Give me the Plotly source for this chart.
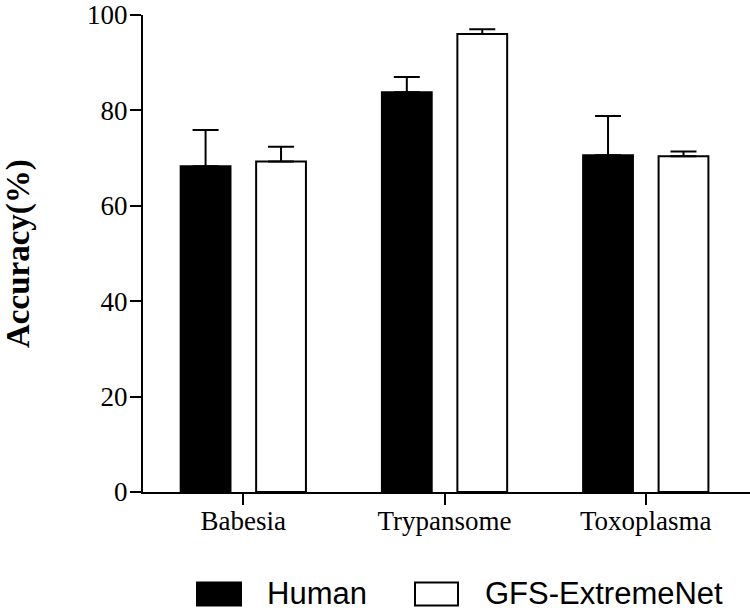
import plotly.graph_objects as go

categories = ["Babesia", "Trypansome", "Toxoplasma"]
human = [68.3, 83.8, 70.6]
human_err = [7.6, 3.2, 8.2]
gfs = [69.3, 96.0, 70.4]
gfs_err = [3.1, 1.0, 1.0]
series_names = ["Human", "GFS-ExtremeNet"]
y_ticks = [0, 20, 40, 60, 80, 100]

W, H = 750, 614
L, R, T, B = 143, 0, 13, 122
pw, ph = W - L - R, H - T - B

def px_x(p):
    return (p - L) / pw

def px_y(p):
    return (H - B - p) / ph

fig = go.Figure()
fig.add_trace(go.Bar(
    x=categories, y=human, name=series_names[0],
    marker=dict(color="black", line=dict(color="black", width=2)),
    error_y=dict(type="data", symmetric=False, array=human_err,
                 arrayminus=[0] * len(human_err),
                 color="black", thickness=2, width=13),
    showlegend=False,
))
fig.add_trace(go.Bar(
    x=categories, y=gfs, name=series_names[1],
    marker=dict(color="white", line=dict(color="black", width=2)),
    error_y=dict(type="data", symmetric=False, array=gfs_err,
                 arrayminus=[0] * len(gfs_err),
                 color="black", thickness=2, width=13),
    showlegend=False,
))

# Legend drawn manually (large swatches)
legend_items = [
    (series_names[0], "black", 197, 241, 265),
    (series_names[1], "white", 415, 458, 483),
]
for name, fill, x0, x1, tx in legend_items:
    fig.add_shape(type="rect", xref="paper", yref="paper",
                  x0=px_x(x0), x1=px_x(x1), y0=px_y(606), y1=px_y(583),
                  fillcolor=fill, line=dict(color="black", width=2))
    fig.add_annotation(text=name, xref="paper", yref="paper",
                       x=px_x(tx), y=px_y(594), xanchor="left", yanchor="middle",
                       showarrow=False,
                       font=dict(family="Liberation Sans, Arial, sans-serif",
                                 size=31, color="black"))

fig.add_annotation(text="<b>Accuracy(%)</b>", xref="paper", yref="paper",
                   x=px_x(19), y=px_y(253), textangle=-90,
                   xanchor="center", yanchor="middle", showarrow=False,
                   font=dict(family="Liberation Serif, Times New Roman, serif",
                             size=33, color="black"))

fig.update_layout(
    width=W, height=H,
    margin=dict(l=L, r=R, t=T, b=B, pad=0),
    paper_bgcolor="white", plot_bgcolor="white",
    barmode="group", bargap=0.25, bargroupgap=0.34,
    font=dict(family="Liberation Serif, Times New Roman, serif", size=27, color="black"),
    xaxis=dict(
        range=[-0.4985, 2.518], showline=True, linecolor="black", linewidth=2,
        ticks="outside", ticklen=11, tickwidth=2, tickcolor="black",
        showgrid=False, zeroline=False, ticklabeloverflow="allow",
        ticklabelstandoff=-7,
        tickfont=dict(family="Liberation Serif, Times New Roman, serif", size=27),
    ),
    yaxis=dict(
        range=[0, 100], tickvals=y_ticks, showline=True, linecolor="black",
        linewidth=2, ticks="outside", ticklen=11, tickwidth=2, tickcolor="black",
        showgrid=False, zeroline=False, ticklabeloverflow="allow",
        ticklabelstandoff=-3,
        tickfont=dict(family="Liberation Serif, Times New Roman, serif", size=27),
    ),
)

fig.write_html("out.html", config={"displayModeBar": False},
               post_script="document.body.style.margin='0';document.body.style.overflow='hidden';")
